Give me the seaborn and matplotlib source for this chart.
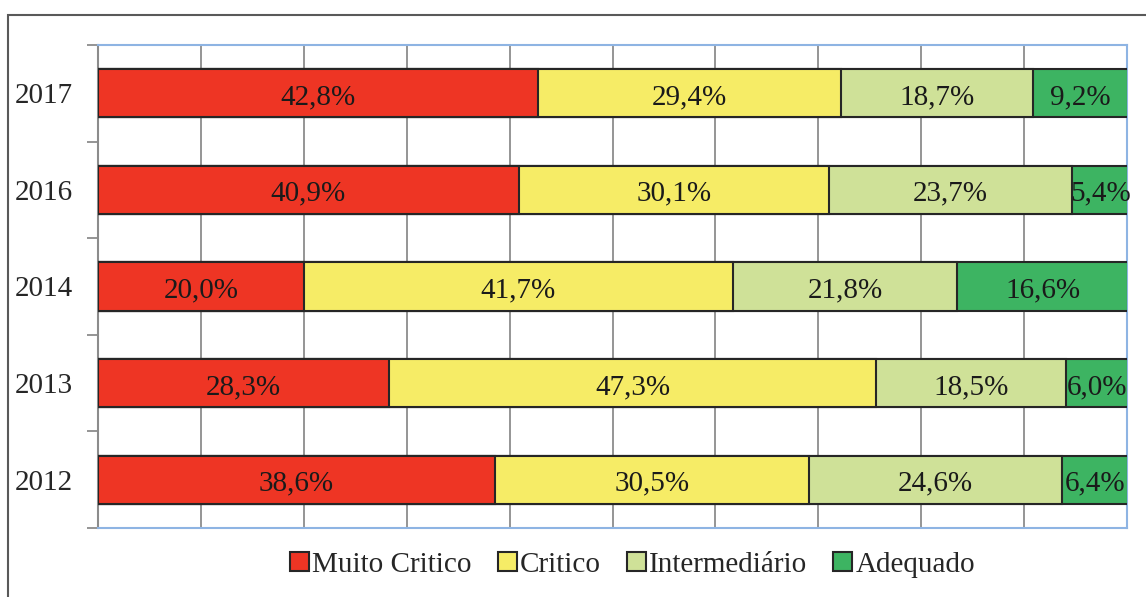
import seaborn as sns
import pandas as pd
import matplotlib.pyplot as plt
from matplotlib.patches import Patch, Rectangle

anos = ['2017', '2016', '2014', '2013', '2012']
categorias = ['Muito Critico', 'Critico', 'Intermediário', 'Adequado']
muito_critico = [42.8, 40.9, 20.0, 28.3, 38.6]
critico = [29.4, 30.1, 41.7, 47.3, 30.5]
intermediario = [18.7, 23.7, 21.8, 18.5, 24.6]
adequado = [9.2, 5.4, 16.6, 6.0, 6.4]
cores = ['#ee3524', '#f6ec66', '#cfe198', '#3db462']

df = pd.DataFrame({'ano': anos, 'Muito Critico': muito_critico, 'Critico': critico,
                   'Intermediário': intermediario, 'Adequado': adequado})
cum = df[categorias].cumsum(axis=1)

sns.set_style('white')
plt.rcParams['font.family'] = ['Liberation Serif', 'DejaVu Serif']

fig = plt.figure(figsize=(11.46, 5.97), dpi=100)
ax = fig.add_axes([98/1146, 1-528/597, (1127-98)/1146, (528-45)/597])

# stacked bars: draw cumulative totals from the back to the front
for cat, cor in reversed(list(zip(categorias, cores))):
    sns.barplot(x=cum[cat], y=df['ano'], order=anos, color=cor, orient='h',
                width=0.5, saturation=1, edgecolor='#262626', linewidth=1.5,
                ax=ax, zorder=3)

for i, ano in enumerate(anos):
    for cat in categorias:
        v = df.loc[i, cat]
        centro = cum.loc[i, cat] - v / 2
        ax.text(centro, i + 0.04, f'{v:.1f}%'.replace('.', ','), ha='center', va='center',
                fontsize=21, color='#1a1a1a', zorder=5)

ax.set_xlim(0, 100)
ax.set_ylim(4.5, -0.5)
ax.set_xlabel('')
ax.set_ylabel('')
ax.set_xticks(range(0, 101, 10))
ax.set_xticklabels([])
ax.tick_params(axis='x', length=0)
ax.grid(axis='x', color='#8c8c8c', linewidth=1.3, zorder=0)
ax.set_axisbelow(True)
ax.set_yticks([i - 0.5 for i in range(6)], minor=True)
ax.tick_params(axis='y', which='minor', left=True, length=8, width=1.3, color='#8c8c8c')
ax.tick_params(axis='y', which='major', length=0, pad=18, labelsize=21)
for s in ['top', 'right', 'bottom']:
    ax.spines[s].set_color('#8eb4e3')
    ax.spines[s].set_linewidth(1.5)
ax.spines['left'].set_color('#8c8c8c')
ax.spines['left'].set_linewidth(1.5)

handles = [Patch(facecolor=c, edgecolor='#262626', linewidth=1.5) for c in cores]
fig.legend(handles, categorias, loc='center', bbox_to_anchor=(0.552, 0.054), ncol=4,
           frameon=False, fontsize=21, handlelength=0.65, handleheight=0.65,
           handletextpad=0.1, columnspacing=0.9)

fig.patches.append(Rectangle((8/1146, -0.2), 1.2, 1.2 - 15/597,
                             transform=fig.transFigure, fill=False,
                             edgecolor='#595959', linewidth=1.5))

fig.savefig('out.png', dpi=100)
